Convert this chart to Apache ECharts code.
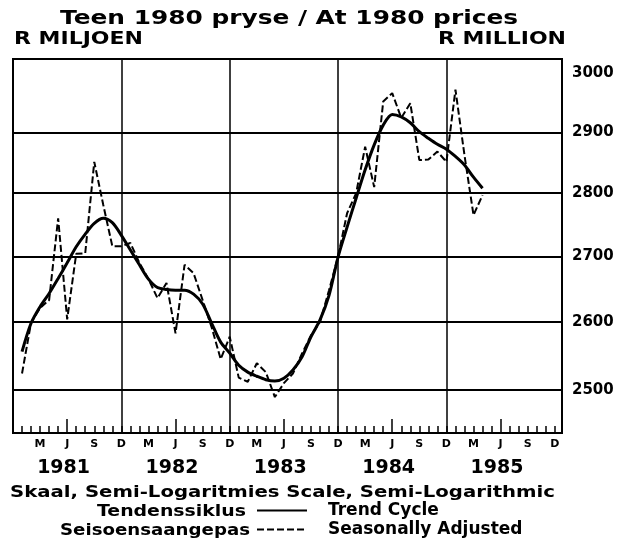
<!DOCTYPE html>
<html><head><meta charset="utf-8">
<script src="https://cdn.jsdelivr.net/npm/echarts@6/dist/echarts.min.js"></script>
<style>html,body{margin:0;padding:0;background:#fff}#c{width:626px;height:544px}</style>
</head><body><div id="c"></div>
<script>
// ---- data ----
const years = ['1981', '1982', '1983', '1984', '1985'];
const quarterLetters = ['D', 'M', 'J', 'S'];          // Dec, Mar, Jun, Sep
const yTickLabels = [2500, 2600, 2700, 2800, 2900, 3000];
const yGridValues = [2500, 2600, 2700, 2800, 2900];
const firstMonth = 1;   // month index (0 = Dec 1980, 1 = Jan 1981)
const trendCycle = [
  2556, 2598, 2623, 2643, 2666, 2690, 2715, 2735, 2752, 2760, 2753, 2733,
  2710, 2687, 2665, 2652, 2649, 2648, 2648, 2642, 2627, 2598, 2570, 2554,
  2536, 2526, 2520, 2515, 2513, 2517, 2529, 2548, 2578, 2603, 2640, 2699,
  2746, 2792, 2838, 2879, 2912, 2930, 2926, 2916, 2901, 2890, 2880, 2872,
  2860, 2846, 2826, 2808
];
const seasonallyAdjusted = [
  2524, 2599, 2621, 2633, 2760, 2604, 2704, 2705, 2851, 2781, 2716, 2716,
  2721, 2690, 2665, 2636, 2659, 2583, 2687, 2674, 2633, 2592, 2545, 2578,
  2518, 2512, 2539, 2526, 2490, 2510, 2524, 2553, 2580, 2600, 2648, 2700,
  2768, 2800, 2876, 2810, 2952, 2966, 2924, 2949, 2854, 2855, 2868, 2851,
  2972, 2862, 2765, 2797
];

// ---- helpers ----
const FAM = '"DejaVu Sans", sans-serif';
const mctx = document.createElement('canvas').getContext('2d');
function fit(text, font, width) { mctx.font = font; return width / mctx.measureText(text).width; }
function txt(text, left, y, size, width) {
  const font = 'bold ' + size + 'px ' + FAM;
  return { type: 'text', x: left, y: y, scaleX: fit(text, font, width), silent: true,
    style: { text: text, font: font, fill: '#000', align: 'left', verticalAlign: 'middle' } };
}

const XMAX = 60.8;
const monthTicks = []; for (let m = 0; m <= 60; m++) monthTicks.push(m);
const quarterTicks = []; for (let m = 3; m <= 60; m += 3) quarterTicks.push(m);
const midYearTicks = years.map((y, i) => 12 * i + 6);
const yearLines = years.slice(1).map((y, i) => 12 * (i + 1));
const yearLabelPos = years.map((y, i) => 12 * i + 5.6);

const chart = echarts.init(document.getElementById('c'), null, { renderer: 'canvas' });
chart.setOption({
  animation: false,
  backgroundColor: '#fff',
  grid: { left: 13, right: 64, top: 59, bottom: 111, show: true, borderColor: '#000', borderWidth: 2, backgroundColor: 'transparent' },
  xAxis: [
    { type: 'value', min: 0, max: XMAX, position: 'bottom',
      axisLine: { show: true, lineStyle: { color: '#000', width: 2 } },
      axisTick: { show: true, inside: true, length: 7, customValues: monthTicks, lineStyle: { color: '#000', width: 1.5 } },
      axisLabel: { customValues: quarterTicks, formatter: v => quarterLetters[Math.round(v / 3) % 4],
        color: '#000', fontFamily: FAM, fontWeight: 'bold', fontSize: 11, margin: 6 },
      splitLine: { show: false } },
    { type: 'value', min: 0, max: XMAX, position: 'bottom',
      axisLine: { show: false },
      axisTick: { show: true, inside: true, length: 14, customValues: midYearTicks, lineStyle: { color: '#000', width: 1.5 } },
      axisLabel: { show: false }, splitLine: { show: false } },
    { type: 'value', min: 0, max: XMAX, position: 'bottom',
      axisLine: { show: false },
      axisTick: { show: false, customValues: yearLines },
      axisLabel: { customValues: yearLabelPos, formatter: v => years[Math.floor(v / 12)],
        color: '#000', fontFamily: FAM, fontWeight: 'bold', fontSize: 19, margin: 26 },
      splitLine: { show: true, lineStyle: { color: '#000', width: 1.5 } } }
  ],
  yAxis: {
    type: 'log', logBase: 10, min: 2439, max: 3025, position: 'right',
    axisLine: { show: false },
    axisTick: { show: false, customValues: yGridValues },
    axisLabel: { customValues: yTickLabels, formatter: v => String(Math.round(v)), color: '#000',
      fontFamily: FAM, fontWeight: 'bold', fontSize: 15, margin: 10, padding: [5, 0, 0, 0] },
    splitLine: { show: true, lineStyle: { color: '#000', width: 2 } }
  },
  legend: {
    data: ['Trend Cycle', 'Seasonally Adjusted'], orient: 'vertical', left: 256, top: 502,
    itemWidth: 50, itemHeight: 10, itemGap: 2, padding: 0,
    itemStyle: { color: 'transparent', borderColor: 'transparent', borderWidth: 0, opacity: 0 },
    textStyle: { color: '#000', fontFamily: FAM, fontWeight: 'bold', fontSize: 17, padding: [0, 0, 0, 16] }
  },
  graphic: [
    txt('Teen 1980 pryse / At 1980 prices', 60, 19, 19, 458),
    txt('R MILJOEN', 14, 40, 17, 129),
    txt('R MILLION', 438, 40, 17, 128),
    txt('Skaal, Semi-Logaritmies Scale, Semi-Logarithmic', 10, 493, 15, 545),
    txt('Tendenssiklus', 97, 512, 15, 149),
    txt('Seisoensaangepas', 60, 531, 15, 190)
  ],
  series: [
    { name: 'Trend Cycle', type: 'line', xAxisIndex: 0, symbol: 'none', smooth: 0.3, z: 4,
      lineStyle: { color: '#000', width: 3 }, itemStyle: { color: '#000' },
      data: trendCycle.map((v, i) => [i + firstMonth, v]) },
    { name: 'Seasonally Adjusted', type: 'line', xAxisIndex: 0, symbol: 'none', z: 3,
      lineStyle: { color: '#000', width: 2, type: [7, 3] }, itemStyle: { color: '#000' },
      data: seasonallyAdjusted.map((v, i) => [i + firstMonth, v]) }
  ]
});
</script></body></html>
